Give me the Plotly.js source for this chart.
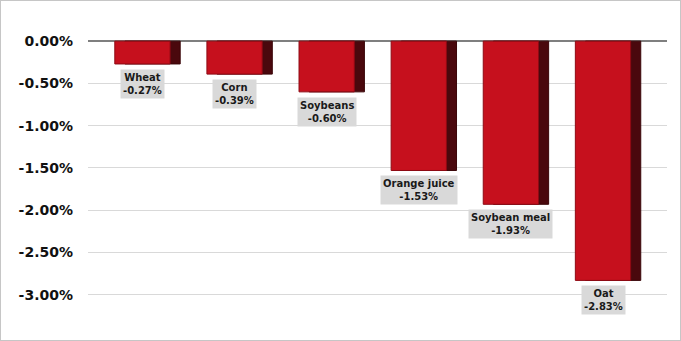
<!DOCTYPE html>
<html>
<head>
<meta charset="utf-8">
<script src="https://cdn.plot.ly/plotly-3.0.1.min.js"></script>
<style>
html,body{margin:0;padding:0;background:#fff;}
#chart{width:679px;height:339px;border:1px solid #c6c6c6;}
</style>
</head>
<body>
<div id="chart"></div>
<script>
const categories = ["Wheat", "Corn", "Soybeans", "Orange juice", "Soybean meal", "Oat"];
const values = [-0.27, -0.39, -0.60, -1.53, -1.93, -2.83];
const labelTexts = ["-0.27%", "-0.39%", "-0.60%", "-1.53%", "-1.93%", "-2.83%"];
const tickValues = [0, -0.5, -1, -1.5, -2, -2.5, -3];
const tickLabels = ["0.00%", "-0.50%", "-1.00%", "-1.50%", "-2.00%", "-2.50%", "-3.00%"];

const W = 681, H = 341;
const side = {
  type: 'bar', x: categories, y: values,
  width: 0.6, offset: -0.245,
  marker: {color: '#4a080d', line: {color: '#3a0609', width: 1}},
  hoverinfo: 'skip', showlegend: false
};
const front = {
  type: 'bar', x: categories, y: values,
  width: 0.6, offset: -0.355,
  marker: {color: '#c6101d', line: {color: '#8e0a14', width: 1}},
  showlegend: false
};
const annotations = categories.map((c, i) => ({
  x: c, y: values[i], xref: 'x', yref: 'y',
  xshift: -5, yshift: -5, yanchor: 'top', xanchor: 'center',
  text: '<b>' + c + '</b><br><b>' + labelTexts[i] + '</b>',
  showarrow: false, bgcolor: '#d9d9d9', borderpad: 2,
  font: {family: 'DejaVu Sans', size: 10, color: '#1a1a1a'}
}));
const layout = {
  width: W - 2, height: H - 2,
  margin: {l: 87, r: 13, t: 19, b: 41, pad: 0},
  paper_bgcolor: '#fff', plot_bgcolor: '#fff',
  barmode: 'overlay', bargap: 0,
  xaxis: {
    type: 'category', range: [-0.646, 5.64],
    showticklabels: false, showgrid: false, zeroline: false, showline: false, ticks: ''
  },
  yaxis: {
    range: [-3.05, 0.25], tickvals: tickValues, ticktext: tickLabels,
    showgrid: true, gridcolor: '#d9d9d9', gridwidth: 1,
    zeroline: true, zerolinecolor: '#7f7f7f', zerolinewidth: 1.5,
    showline: false, ticks: '', ticklabelstandoff: 14,
    tickfont: {family: 'DejaVu Sans', size: 14, color: '#111', weight: 'bold'}
  },
  annotations: annotations
};
Plotly.newPlot('chart', [side, front], layout, {displayModeBar: false, staticPlot: true});
</script>
</body>
</html>
